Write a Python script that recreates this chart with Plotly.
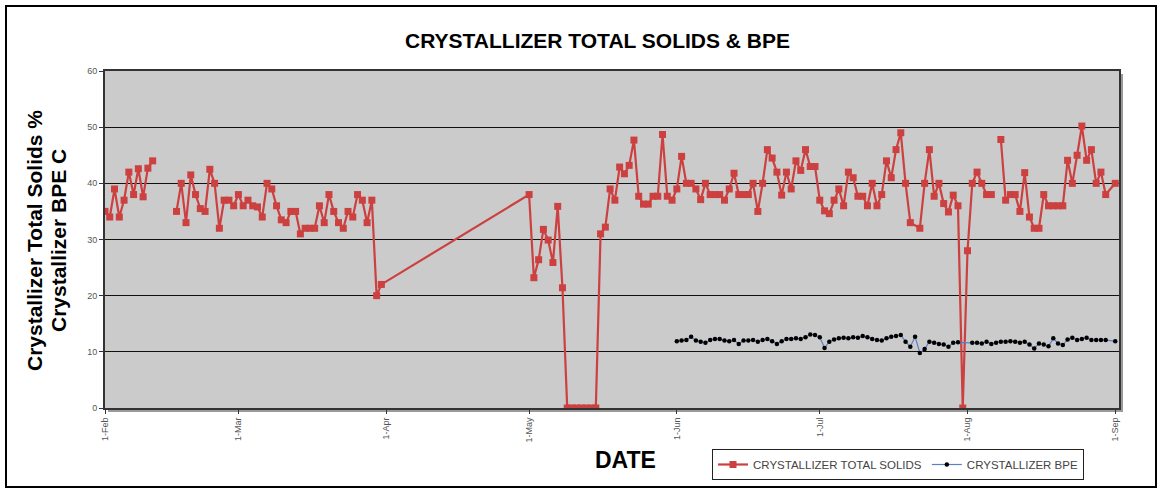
import pandas as pd
import plotly.graph_objects as go

# ---- data ----
# Total solids: runs of consecutive daily readings; None = break in the line
ts_runs = [
    ("2009-02-01", [35, 34, 39, 34, 37, 42, 38, 42.6, 37.6, 42.7, 44]),
    None,
    ("2009-02-16", [35, 40, 33, 41.5, 38, 35.5, 35, 42.5, 40, 32,
                    37, 37, 36, 38, 36, 37, 36, 35.8, 34, 40,
                    39, 36, 33.5, 33, 35, 35, 31, 32, 32, 32,
                    36, 33, 38, 35, 33, 32, 35, 34, 38, 37,
                    33, 37, 20, 22]),
    ("2009-05-01", [38, 23.2, 26.4, 31.8, 29.9, 25.9, 35.9, 21.4,
                    0, 0, 0, 0, 0, 0, 0,
                    31, 32.2, 39, 37, 42.9, 41.7, 43.2, 47.7, 37.7, 36.3,
                    36.3, 37.7, 37.7, 48.7, 37.7, 37,
                    39, 44.8, 40, 40, 39, 37.1, 40, 38, 38, 38,
                    37, 39, 41.8, 38, 38, 38, 40, 35, 40, 46,
                    44.5, 42, 37.9, 42, 39, 44, 42.3, 46, 43, 43,
                    37, 35.1, 34.6, 37, 39, 36, 42, 41, 37.7, 37.7,
                    36, 40, 36, 38, 44, 41, 46, 49, 40, 33]),
    ("2009-07-22", [32, 40, 46, 37.7, 40, 36.4, 34.9, 37.9, 36, 0,
                    28, 40, 42, 40, 38, 38]),
    None,
    ("2009-08-08", [47.8, 37, 38, 38, 35, 41.9, 34, 32, 32, 38,
                    36, 36, 36, 36, 44.1, 40, 45, 50.2, 44.1, 46,
                    40, 42, 38]),
    ("2009-09-01", [40]),
]

# BPE: runs of consecutive daily readings
bpe_runs = [
    ("2009-06-01", [11.9, 12, 12.1, 12.7, 12, 11.8, 11.6, 12.1, 12.3, 12.3,
                    12, 11.9, 12.1, 11.4, 12, 12, 12.1,
                    11.8, 12.1, 12.3, 11.9, 11.4, 11.9, 12.3, 12.3, 12.4, 12.3,
                    12.6, 13.1, 13, 12.6, 10.7, 11.8, 12.2, 12.4, 12.5, 12.4,
                    12.6, 12.5, 12.8, 12.6, 12.3, 12.1, 12, 12.4, 12.7, 12.8,
                    13, 11.8, 10.9, 12.7, 9.8, 10.5, 11.8, 11.6, 11.4, 11.3,
                    10.9, 11.6, 11.7]),
    ("2009-08-02", [11.6, 11.6, 11.5, 11.8, 11.4, 11.6, 11.8, 11.8, 11.9, 11.8,
                    11.6, 11.8, 11.3, 10.6, 11.5, 11.3, 11.0, 12.4, 11.5, 11.2,
                    12.2, 12.5, 12.1, 12.3, 12.5, 12.1, 12.1, 12.1, 12.1]),
    ("2009-09-01", [11.9]),
]

tick_dates = ["2009-02-01", "2009-03-01", "2009-04-01", "2009-05-01",
              "2009-06-01", "2009-07-01", "2009-08-01", "2009-09-01"]
tick_labels = ["1-Feb", "1-Mar", "1-Apr", "1-May", "1-Jun", "1-Jul", "1-Aug", "1-Sep"]

title_text = "CRYSTALLIZER TOTAL SOLIDS & BPE"
y_title_1 = "Crystallizer Total Solids %"
y_title_2 = "Crystallizer BPE C"
x_title = "DATE"
ts_name = "CRYSTALLIZER TOTAL SOLIDS"
bpe_name = "CRYSTALLIZER BPE"


def expand(runs):
    xs, ys = [], []
    for run in runs:
        if run is None:
            xs.append(None)
            ys.append(None)
            continue
        start, vals = run
        dates = pd.date_range(start, periods=len(vals), freq="D")
        xs.extend(dates)
        ys.extend(vals)
    return xs, ys


ts_x, ts_y = expand(ts_runs)
bpe_x, bpe_y = expand(bpe_runs)

FONT = "Arial, Liberation Sans, sans-serif"
RED = "#cc4040"

fig = go.Figure()
fig.add_trace(go.Scatter(
    x=ts_x, y=ts_y, name=ts_name, mode="lines+markers",
    line=dict(color=RED, width=2.2),
    marker=dict(symbol="square", size=7, color=RED),
    connectgaps=False,
))
fig.add_trace(go.Scatter(
    x=bpe_x, y=bpe_y, name=bpe_name, mode="lines+markers",
    line=dict(color="#5b7fc8", width=1.2),
    marker=dict(symbol="circle", size=4.5, color="black"),
))

W, H = 1162, 492
L, R, T, B = 105, 43, 71, 84
pw, ph = W - L - R, H - T - B


def px(xp):
    return (xp - L) / pw


def py(yp):
    return (H - B - yp) / ph


def label(text, x, y, size, angle=0):
    return dict(text="<b>" + text + "</b>", x=px(x), y=py(y),
                xref="paper", yref="paper", showarrow=False, textangle=angle,
                xanchor="center", yanchor="middle",
                font=dict(size=size, color="black", family=FONT))


fig.update_layout(
    width=W, height=H,
    margin=dict(l=L, r=R, t=T, b=B, autoexpand=False),
    paper_bgcolor="white",
    plot_bgcolor="rgba(0,0,0,0)",
    font=dict(family=FONT, color="#333"),
    showlegend=True,
    legend=dict(
        orientation="h", x=px(712), y=py(449), xanchor="left", yanchor="top",
        bordercolor="#222", borderwidth=1, bgcolor="white",
        font=dict(size=11.5, color="#444", family=FONT),
        itemwidth=30, tracegroupgap=0,
    ),
    xaxis=dict(
        type="date",
        range=["2009-02-01", "2009-09-01 19:00"],
        tickvals=tick_dates, ticktext=tick_labels, tickangle=-90,
        tickfont=dict(size=9, color="#555"),
        ticks="outside", ticklen=4, tickcolor="#333",
        showgrid=False, zeroline=False,
        showline=True, linecolor="#333", linewidth=2, mirror=True,
    ),
    yaxis=dict(
        range=[0, 60], tickvals=[0, 10, 20, 30, 40, 50, 60],
        tickfont=dict(size=9, color="#555"),
        ticks="outside", ticklen=4, tickcolor="#333",
        showgrid=True, gridcolor="#111", gridwidth=1,
        zeroline=False,
        showline=True, linecolor="#333", linewidth=2, mirror=True,
    ),
    annotations=[
        label(title_text, 597, 40, 21),
        label(y_title_1, 34, 241, 21, -90),
        label(y_title_2, 58, 241, 21, -90),
        label(x_title, 625, 460, 23),
    ],
    shapes=[
        # outer chart border
        dict(type="rect", xref="paper", yref="paper",
             x0=px(6), x1=px(1156), y0=py(487), y1=py(6),
             line=dict(color="black", width=2), fillcolor="rgba(0,0,0,0)",
             layer="below"),
        # soft shadow of the plot area
        dict(type="rect", xref="paper", yref="paper",
             x0=px(L + 3), x1=px(W - R + 4), y0=py(H - B + 4), y1=py(T + 3),
             line=dict(width=0), fillcolor="#9a9a9a", layer="below"),
        # plot area background
        dict(type="rect", xref="paper", yref="paper",
             x0=0, x1=1, y0=0, y1=1,
             line=dict(width=0), fillcolor="#cbcbcb", layer="below"),
    ],
)

fig.write_html("out.html",
               config={"displayModeBar": False},
               post_script="document.body.style.margin='0';"
                           "document.body.style.overflow='hidden';")
